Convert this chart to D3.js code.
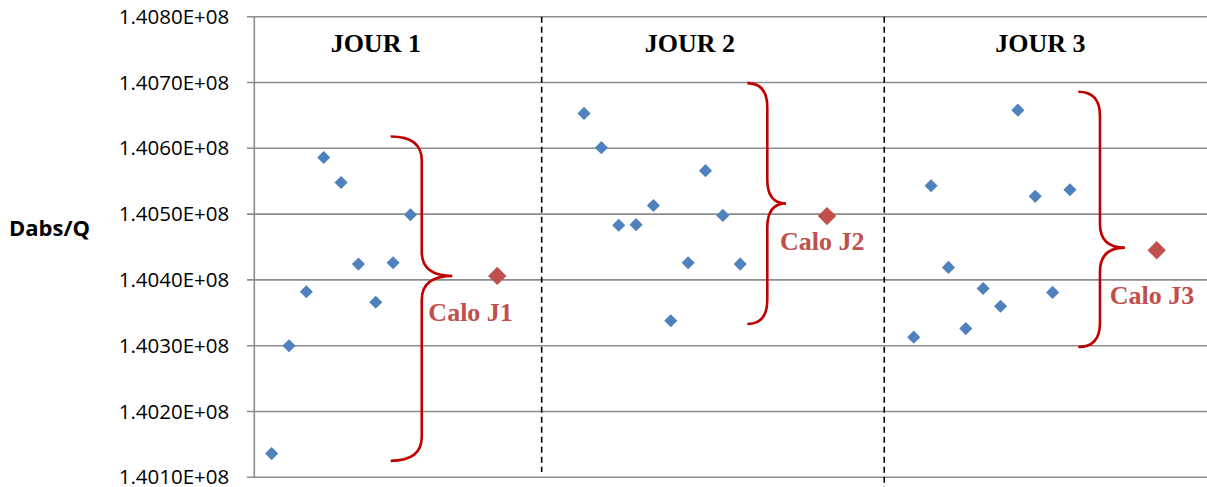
<!DOCTYPE html>
<html>
<head>
<meta charset="utf-8">
<script src="https://cdn.jsdelivr.net/npm/d3@7"></script>
<style>
  body { margin: 0; background: #fff; }
  svg { display: block; }
</style>
</head>
<body>
<div id="graph"></div>
<script>
'use strict';

let WIDTH = 1207;
let HEIGHT = 487;

// measurements, in units of 1e8
let jour1 = [1.40136, 1.40300, 1.40382, 1.40586, 1.40548, 1.40424, 1.40366, 1.40426, 1.40499];
let jour2 = [1.40653, 1.40601, 1.40483, 1.40484, 1.40513, 1.40338, 1.40426, 1.40566, 1.40498, 1.40424];
let jour3 = [1.40313, 1.40543, 1.40419, 1.40326, 1.40387, 1.40360, 1.40658, 1.40527, 1.40381, 1.40537];
let jour1X = [1, 2, 3, 4, 5, 6, 7, 8, 9];
let jour2X = [19, 20, 21, 22, 23, 24, 25, 26, 27, 28];
let jour3X = [38, 39, 40, 41, 42, 43, 44, 45, 46, 47];

let caloLabels = ['Calo J1', 'Calo J2', 'Calo J3'];
let caloValues = [1.40406, 1.40497, 1.40445];
let caloX = [14, 33, 52];

let dayLabels = ['JOUR 1', 'JOUR 2', 'JOUR 3'];
let dayLabelX = [7.0, 25.1, 45.3];
let separatorX = [16.56, 36.3];

// braces: top / bottom / middle values and tip, spine, point positions
let braceTop = [1.40618, 1.40699, 1.40686];
let braceBottom = [1.40125, 1.40333, 1.40298];
let braceMid = [1.40406, 1.40516, 1.40449];
let braceTipX = [7.86, 28.41, 47.48];
let braceSpineX = [9.65, 29.56, 48.73];
let bracePointX = [11.41, 30.64, 50.17];
let caloLabelX = [10.03, 30.29, 49.3];
let caloLabelY = [1.40338, 1.40445, 1.40364];

let yTicks = [1.4010, 1.4020, 1.4030, 1.4040, 1.4050, 1.4060, 1.4070, 1.4080];

let COLORS = {
    point: '#4F81BD',
    calo: '#C0504D',
    brace: '#C00000',
    grid: '#8C8C8C',
};

function visualize () {
    let svg = d3.select('#graph')
        .append('svg')
        .attr('width', WIDTH)
        .attr('height', HEIGHT);

    let xScale = d3.scaleLinear()
        .domain([0, 55])
        .range([254.3, 254.3 + 55 * 17.354]);

    let yScale = d3.scaleLinear()
        .domain([1.4010, 1.4080])
        .range([477.3, 16.7]);

    // gridlines
    svg.append('g')
        .selectAll('line')
        .data(yTicks)
        .enter()
        .append('line')
        .attr('x1', 247)
        .attr('x2', xScale(55))
        .attr('y1', d => yScale(d))
        .attr('y2', d => yScale(d))
        .attr('stroke', COLORS.grid)
        .attr('stroke-width', 1.6);

    // y axis
    let yAxis = d3.axisLeft(yScale)
        .tickValues(yTicks)
        .tickFormat(d => d.toFixed(4) + 'E+08')
        .tickSize(7)
        .tickPadding(18);

    let gAxis = svg.append('g')
        .attr('transform', 'translate(' + xScale(0) + ',0)')
        .call(yAxis);
    gAxis.select('.domain').remove();
    gAxis.selectAll('line').remove();
    gAxis.attr('font-size', null).attr('font-family', null);
    gAxis.selectAll('text')
        .style('font-family', '"Open Sans", sans-serif')
        .style('font-size', '20.5px')
        .attr('fill', '#000');

    svg.append('line')
        .attr('x1', xScale(0))
        .attr('x2', xScale(0))
        .attr('y1', yScale(1.4080))
        .attr('y2', yScale(1.4010))
        .attr('stroke', COLORS.grid)
        .attr('stroke-width', 1.6);

    svg.append('text')
        .attr('x', 9)
        .attr('y', yScale(1.4050) + 22)
        .style('font-family', '"Open Sans", sans-serif')
        .style('font-size', '22px')
        .style('font-weight', 'bold')
        .text('Dabs/Q');

    // day separators
    svg.selectAll('.sep')
        .data(separatorX)
        .enter()
        .append('line')
        .attr('class', 'sep')
        .attr('x1', d => xScale(d))
        .attr('x2', d => xScale(d))
        .attr('y1', yScale(1.4080))
        .attr('y2', (d, i) => i == 0 ? 472 : 487)
        .attr('stroke', '#000')
        .attr('stroke-width', 1.6)
        .attr('stroke-dasharray', '6,4');

    svg.selectAll('.day')
        .data(dayLabels)
        .enter()
        .append('text')
        .attr('class', 'day')
        .attr('x', (d, i) => xScale(dayLabelX[i]))
        .attr('y', 52)
        .attr('text-anchor', 'middle')
        .style('font-family', '"Liberation Serif", "Times New Roman", serif')
        .style('font-size', '26px')
        .style('font-weight', 'bold')
        .text(d => d);

    // braces
    let braceData = caloLabels.map((c, i) => ({
        top: yScale(braceTop[i]),
        bottom: yScale(braceBottom[i]),
        mid: yScale(braceMid[i]),
        tip: xScale(braceTipX[i]),
        spine: xScale(braceSpineX[i]),
        point: xScale(bracePointX[i]),
    }));
    let r = 24;
    svg.selectAll('.brace')
        .data(braceData)
        .enter()
        .append('path')
        .attr('class', 'brace')
        .attr('d', b => {
            let p = d3.path();
            p.moveTo(b.tip, b.top);
            p.quadraticCurveTo(b.spine, b.top, b.spine, b.top + r);
            p.lineTo(b.spine, b.mid - r);
            p.quadraticCurveTo(b.spine, b.mid, b.point, b.mid);
            p.quadraticCurveTo(b.spine, b.mid, b.spine, b.mid + r);
            p.lineTo(b.spine, b.bottom - r);
            p.quadraticCurveTo(b.spine, b.bottom, b.tip, b.bottom);
            return p.toString();
        })
        .attr('fill', 'none')
        .attr('stroke', COLORS.brace)
        .attr('stroke-width', 2.6);

    // points
    let points = [];
    [[jour1X, jour1], [jour2X, jour2], [jour3X, jour3]].forEach(([xs, ys]) => {
        xs.forEach((x, i) => points.push({ x: x, y: ys[i] }));
    });

    let blueSym = d3.symbol().type(d3.symbolSquare).size(86);
    svg.selectAll('.pt')
        .data(points)
        .enter()
        .append('path')
        .attr('class', 'pt')
        .attr('d', blueSym)
        .attr('transform', d => 'translate(' + xScale(d.x) + ',' + yScale(d.y) + ') rotate(45)')
        .attr('fill', COLORS.point);

    let redSym = d3.symbol().type(d3.symbolSquare).size(168);
    svg.selectAll('.calo')
        .data(caloValues)
        .enter()
        .append('path')
        .attr('class', 'calo')
        .attr('d', redSym)
        .attr('transform', (d, i) => 'translate(' + xScale(caloX[i]) + ',' + yScale(d) + ') rotate(45)')
        .attr('fill', COLORS.calo);

    svg.selectAll('.calo-label')
        .data(caloLabels)
        .enter()
        .append('text')
        .attr('class', 'calo-label')
        .attr('x', (d, i) => xScale(caloLabelX[i]))
        .attr('y', (d, i) => yScale(caloLabelY[i]))
        .style('font-family', '"Liberation Serif", "Times New Roman", serif')
        .style('font-size', '26px')
        .style('font-weight', 'bold')
        .attr('fill', COLORS.calo)
        .text(d => d);
}

visualize();
</script>
</body>
</html>
